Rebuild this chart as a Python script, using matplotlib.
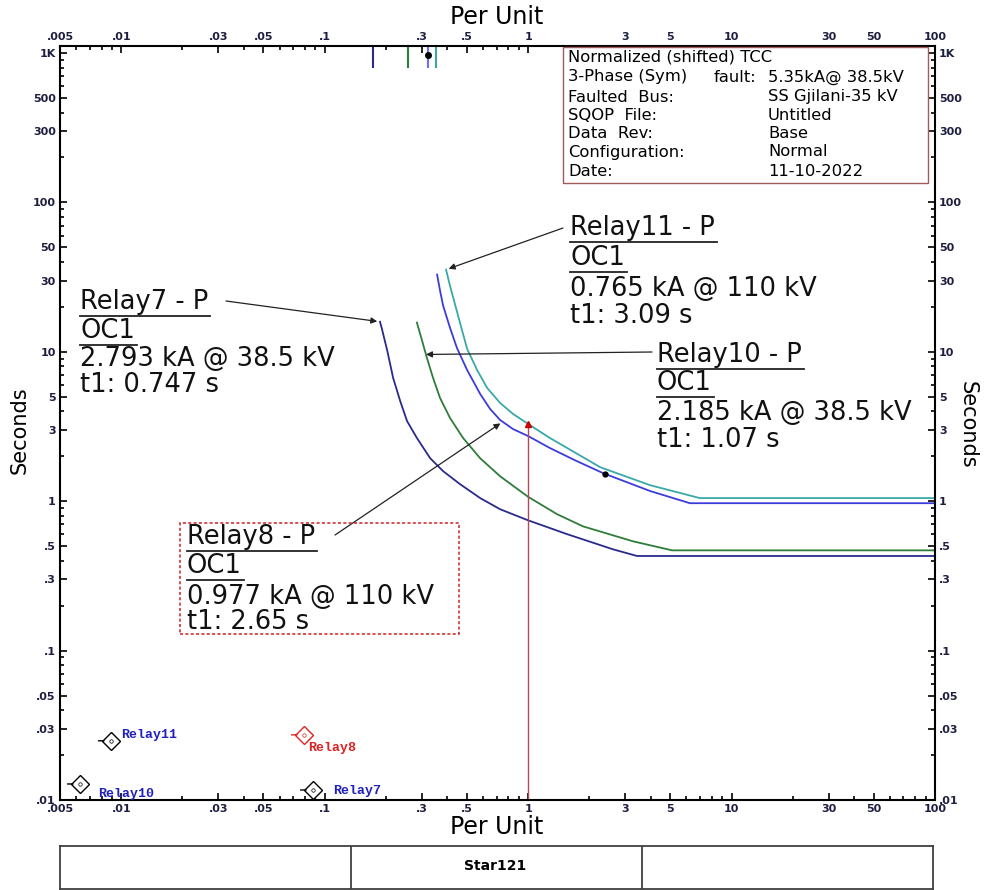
import numpy as np
import matplotlib
matplotlib.use("Agg")
import matplotlib.pyplot as plt
from matplotlib.patches import Rectangle
from matplotlib.lines import Line2D
from matplotlib.transforms import IdentityTransform
from matplotlib.ticker import LogLocator, NullFormatter

# TCC curves (per unit current, seconds)
relay7_x = [0.187, 0.191, 0.203, 0.217, 0.235, 0.254, 0.284, 0.330, 0.382, 0.463, 0.581, 0.728, 1.0, 1.56, 2.62, 3.43, 100]
relay7_y = [15.9, 14.3, 10.2, 6.69, 4.69, 3.44, 2.65, 1.94, 1.59, 1.30, 1.05, 0.884, 0.745, 0.601, 0.476, 0.43, 0.43]

relay10_x = [0.284, 0.301, 0.318, 0.341, 0.369, 0.413, 0.479, 0.581, 0.728, 1.0, 1.39, 1.86, 3.28, 5.1, 100]
relay10_y = [15.7, 11.9, 9.12, 6.69, 4.91, 3.61, 2.65, 1.94, 1.47, 1.07, 0.818, 0.679, 0.539, 0.469, 0.469]

relay8_x = [0.357, 0.369, 0.382, 0.413, 0.447, 0.501, 0.581, 0.650, 0.728, 0.843, 1.0, 1.28, 1.70, 2.34, 3.98, 6.24, 100]
relay8_y = [32.9, 25.7, 20.4, 14.5, 10.6, 7.57, 5.23, 4.15, 3.50, 3.04, 2.73, 2.27, 1.88, 1.54, 1.17, 0.97, 0.97]

relay11_x = [0.395, 0.413, 0.447, 0.501, 0.561, 0.629, 0.728, 0.843, 1.0, 1.28, 2.26, 3.98, 6.97, 100]
relay11_y = [35.5, 27.7, 18.6, 10.5, 7.57, 5.73, 4.55, 3.84, 3.29, 2.65, 1.69, 1.28, 1.05, 1.05]

# instantaneous markers at the top
inst_x = [0.173, 0.257, 0.322, 0.353]
inst_colors = ["#2a2a8c", "#2e7d3a", "#7070f0", "#3aa8a8"]
inst_dot = (0.322, 970)

fault_pu = 1.0
fault_t = 3.29
op_dot = (2.39, 1.52)

# device symbols in the lower left
sym_names = ["Relay11", "Relay10", "Relay8", "Relay7"]
sym_x = [0.0089, 0.00627, 0.0792, 0.0877]
sym_y = [0.0249, 0.0128, 0.0273, 0.01167]
sym_edge = ["black", "black", "#dd2222", "black"]
sym_text_col = ["#2020c0", "#2020c0", "#dd2222", "#2020c0"]
sym_off = [(7, 4.5), (13, -7.5), (3, -9.5), (14.5, -1)]

xt = [0.005, 0.01, 0.03, 0.05, 0.1, 0.3, 0.5, 1, 3, 5, 10, 30, 50, 100]
xtl = [".005", ".01", ".03", ".05", ".1", ".3", ".5", "1", "3", "5", "10", "30", "50", "100"]
yt = [0.01, 0.03, 0.05, 0.1, 0.3, 0.5, 1, 3, 5, 10, 30, 50, 100, 300, 500, 1000]
ytl = [".01", ".03", ".05", ".1", ".3", ".5", "1", "3", "5", "10", "30", "50", "100", "300", "500", "1K"]

info_left = ["Normalized (shifted) TCC", "3-Phase (Sym)", "Faulted  Bus:", "SQOP  File:",
             "Data  Rev:", "Configuration:", "Date:"]
info_right = ["", "5.35kA@ 38.5kV", "SS Gjilani-35 kV", "Untitled", "Base", "Normal", "11-10-2022"]

W, H = 985, 890
fig = plt.figure(figsize=(W / 100, H / 100), dpi=100)
fig.patch.set_facecolor("white")


def fx(px):
    return px / W


def fy(py):
    return 1 - py / H


ax = fig.add_axes([fx(60), fy(800), 875 / W, 754 / H])
ax.set_xscale("log")
ax.set_yscale("log")
ax.set_xlim(0.005, 100)
ax.set_ylim(0.01, 1115)

ax.plot(relay7_x, relay7_y, color="#2a2a8c", lw=1.3)
ax.plot(relay10_x, relay10_y, color="#2e7d3a", lw=1.3)
ax.plot(relay8_x, relay8_y, color="#3c3cdc", lw=1.3)
ax.plot(relay11_x, relay11_y, color="#3aa8a8", lw=1.3)

ax.vlines(inst_x, 790, 1115, colors=inst_colors, lw=1.5)
ax.plot(*inst_dot, "o", color="black", ms=4)

ax.plot([fault_pu, fault_pu], [0.01, fault_t], color="#b04a5a", lw=1)
ax.plot(fault_pu, fault_t, marker="^", ms=4, color="#cc0000")
ax.plot(*op_dot, "o", color="black", ms=3.5)

for n, x, y, ec, tc, off in zip(sym_names, sym_x, sym_y, sym_edge, sym_text_col, sym_off):
    ax.plot(x, y, marker="D", ms=9, mfc="white", mec=ec, mew=1)
    ax.plot(x, y, marker="o", ms=2.5, mfc="none", mec=ec, mew=0.5)
    ax.annotate("", xy=(x, y), xytext=(-9, 0), textcoords="offset points",
                arrowprops=dict(arrowstyle="-", color=ec, lw=1, shrinkA=0, shrinkB=5))
    ax.annotate(n, xy=(x, y), xytext=off, textcoords="offset points", va="center",
                ha="left", fontsize=9.5, fontweight="bold", family="Liberation Mono", color=tc)

ax.set_xticks(xt)
ax.set_xticklabels(xtl, fontweight="bold")
ax.set_yticks(yt)
ax.set_yticklabels(ytl, fontweight="bold")
ax.xaxis.set_minor_locator(LogLocator(base=10, subs=np.arange(2, 10), numticks=30))
ax.yaxis.set_minor_locator(LogLocator(base=10, subs=np.arange(2, 10), numticks=30))
ax.xaxis.set_minor_formatter(NullFormatter())
ax.yaxis.set_minor_formatter(NullFormatter())
ax.tick_params(which="both", direction="in", top=True, right=True, labeltop=True,
               labelright=True, labelsize=8, labelcolor="#1e1e40", width=1.2, pad=3)
ax.tick_params(which="major", length=5)
ax.tick_params(which="minor", length=3)
for s in ax.spines.values():
    s.set_linewidth(1.5)

fig.text(fx(497), fy(17), "Per Unit", fontsize=17, ha="center", va="center")
fig.text(fx(497), fy(827), "Per Unit", fontsize=17, ha="center", va="center")
fig.text(fx(20), fy(430), "Seconds", fontsize=15, rotation=90, ha="center", va="center")
fig.text(fx(968), fy(425), "Seconds", fontsize=15, rotation=-90, ha="center", va="center")

# info box
fig.add_artist(Rectangle((fx(563), fy(183)), 365 / W, 136 / H, transform=fig.transFigure,
                         facecolor="white", edgecolor="#a05a5a", lw=1, zorder=3))
row_y = [57, 77, 97, 115, 134, 152, 171]
for yy, a, b in zip(row_y, info_left, info_right):
    fig.text(fx(568), fy(yy), a, fontsize=11.8, va="center", zorder=4)
    if b:
        fig.text(fx(768), fy(yy), b, fontsize=11.8, va="center", zorder=4)
fig.text(fx(714), fy(77), "fault:", fontsize=11.8, va="center", zorder=4)

# relay callouts
callouts = [
    (80, [302, 331, 359, 385], ["Relay7 - P", "OC1", "2.793 kA @ 38.5 kV", "t1: 0.747 s"]),
    (570, [228, 258, 289, 316], ["Relay11 - P", "OC1", "0.765 kA @ 110 kV", "t1: 3.09 s"]),
    (657, [355, 383, 413, 440], ["Relay10 - P", "OC1", "2.185 kA @ 38.5 kV", "t1: 1.07 s"]),
    (187, [537, 566, 597, 622], ["Relay8 - P", "OC1", "0.977 kA @ 110 kV", "t1: 2.65 s"]),
]
under = []
for x0, ys, lines in callouts:
    for i, (yy, s) in enumerate(zip(ys, lines)):
        t = fig.text(fx(x0), fy(yy), s, fontsize=18.5, va="center", color="#111111", zorder=4)
        if i < 2:
            under.append(t)

fig.add_artist(Rectangle((fx(180), fy(634)), 279 / W, 111 / H, transform=fig.transFigure,
                         facecolor="none", edgecolor="#cc2222", lw=1.1, ls=(0, (2, 1.5)), zorder=3))

arrow = dict(arrowstyle="-|>", color="#222222", lw=0.9, mutation_scale=9, shrinkA=0, shrinkB=2)
ax.annotate("", xy=(relay7_x[0], relay7_y[0]), xytext=(226, H - 301),
            textcoords="figure pixels", arrowprops=arrow)
ax.annotate("", xy=(relay11_x[0], relay11_y[0]), xytext=(563, H - 228),
            textcoords="figure pixels", arrowprops=arrow)
y10 = 9.6
x10 = 10 ** np.interp(np.log10(y10), np.log10(relay10_y[::-1][1:]), np.log10(relay10_x[::-1][1:]))
ax.annotate("", xy=(x10 * 0.97, y10), xytext=(652, H - 352),
            textcoords="figure pixels", arrowprops=arrow)
x8 = 0.75
y8 = 10 ** np.interp(np.log10(x8), np.log10(relay8_x), np.log10(relay8_y))
ax.annotate("", xy=(x8, y8), xytext=(335, H - 535),
            textcoords="figure pixels", arrowprops=arrow)

# bottom title block
bx = fig.add_axes([fx(60), fy(889), 873 / W, 43 / H])
bx.set_xlim(0, 3)
bx.set_ylim(0, 1)
bx.set_xticks([])
bx.set_yticks([])
for s in bx.spines.values():
    s.set_linewidth(1.3)
    s.set_color("#404040")
bx.axvline(1, color="#404040", lw=1.3)
bx.axvline(2, color="#404040", lw=1.3)
fig.text(fx(495), fy(866), "Star121", fontsize=10, fontweight="bold", ha="center", va="center")

fig.canvas.draw()
r = fig.canvas.get_renderer()
for t in under:
    bb = t.get_window_extent(r)
    fig.add_artist(Line2D([bb.x0, bb.x1 + 2], [bb.y0 - 1, bb.y0 - 1], transform=IdentityTransform(),
                          color="#222222", lw=1.3, zorder=4))

fig.savefig("out.png", dpi=100)
